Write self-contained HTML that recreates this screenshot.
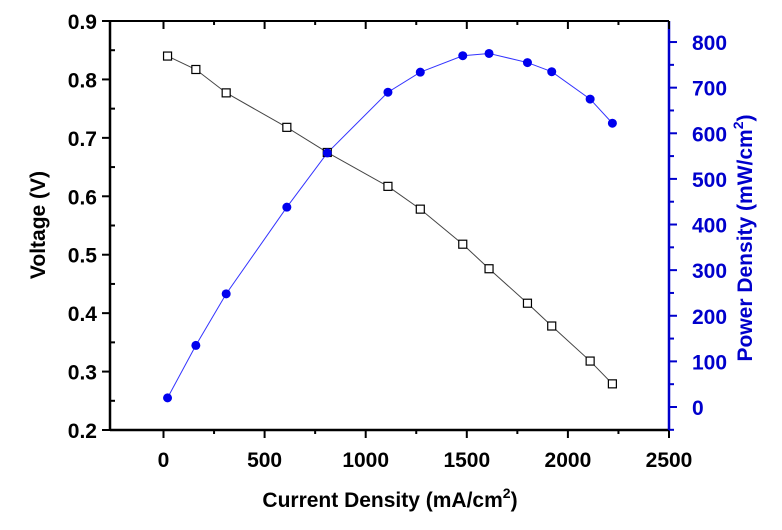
<!DOCTYPE html>
<html><head><style>html,body{margin:0;padding:0;background:#fff}</style></head><body>
<svg width="782" height="525" xmlns="http://www.w3.org/2000/svg" font-family="Liberation Sans, Arial, sans-serif" font-weight="bold">
<rect width="782" height="525" fill="#fff"/>
<g id="ax"></g>
</svg>
<script>
const s=document.getElementById('ax');const NS='http://www.w3.org/2000/svg';
function el(t,a,txt){const e=document.createElementNS(NS,t);for(const k in a)e.setAttribute(k,a[k]);if(txt!==undefined)e.textContent=txt;s.appendChild(e);return e;}
const L=110,R=669,T=21,B=430;
const X=v=>163.5+v*0.2022, YV=v=>21+(0.9-v)*584.3, YP=p=>407-p*0.4562;
el('line',{x1:L,y1:T,x2:R,y2:T,stroke:'#000','stroke-width':2});
el('line',{x1:L,y1:B,x2:R,y2:B,stroke:'#000','stroke-width':2.5});
el('line',{x1:L,y1:T,x2:L,y2:B,stroke:'#000','stroke-width':2.5});
el('line',{x1:R,y1:T,x2:R,y2:B,stroke:'#00c','stroke-width':2.5});
for(let v=0;v<=2500;v+=250){const x=X(v);const maj=v%500==0;
 el('line',{x1:x,y1:B,x2:x,y2:B+(maj?8:4),stroke:'#000','stroke-width':2});
 el('line',{x1:x,y1:T,x2:x,y2:T+(maj?8:4),stroke:'#000','stroke-width':2});
 if(maj)el('text',{x:x,y:467,'text-anchor':'middle','font-size':21},v);}
for(let i=0;i<=14;i++){const v=0.2+i*0.05;const y=YV(v);const maj=i%2==0;
 el('line',{x1:L-(maj?8:0),y1:y,x2:L+(maj?0:5),y2:y,stroke:'#000','stroke-width':2});
 if(maj)el('text',{x:L-13,y:y+8,'text-anchor':'end','font-size':21},v.toFixed(1));}
for(let p=-50;p<=850;p+=50){const y=YP(p);if(y<T-1)continue;const maj=p%100==0;
 el('line',{x1:R,y1:y,x2:R+(maj?8:5),y2:y,stroke:'#00c','stroke-width':2});
 if(maj)el('text',{x:R+23,y:y+8,'text-anchor':'start','font-size':21,fill:'#00c'},p);}
el('text',{x:0,y:0,'font-size':21,'text-anchor':'middle',transform:'translate(45,225) rotate(-90)'},'Voltage (V)');
const xl=el('text',{x:390,y:507,'font-size':21,'text-anchor':'middle'});
xl.innerHTML='Current Density (mA/cm<tspan dy="-9" font-size="14">2</tspan><tspan dy="9">)</tspan>';
const yl=el('text',{x:0,y:0,'font-size':21,'text-anchor':'middle',fill:'#00c',transform:'translate(752,238) rotate(-90)'});
yl.innerHTML='Power Density (mW/cm<tspan dy="-9" font-size="14">2</tspan><tspan dy="9">)</tspan>';
const I=[20,160,310,610,810,1110,1270,1480,1610,1800,1920,2110,2220];
const V=[0.84,0.817,0.777,0.718,0.675,0.617,0.578,0.518,0.476,0.417,0.378,0.318,0.279];
const P=[20,135,248,438,557,690,734,770,775,755,735,675,622];
el('polyline',{points:I.map((c,i)=>X(c)+','+YV(V[i])).join(' '),fill:'none',stroke:'#444','stroke-width':1});
el('polyline',{points:I.map((c,i)=>X(c)+','+YP(P[i])).join(' '),fill:'none',stroke:'#33f','stroke-width':1});
I.forEach((c,i)=>el('rect',{x:X(c)-4,y:YV(V[i])-4,width:8,height:8,fill:'#fff',stroke:'#000','stroke-width':1.2}));
I.forEach((c,i)=>el('circle',{cx:X(c),cy:YP(P[i]),r:4.5,fill:'#00e'}));
</script>
</body></html>
